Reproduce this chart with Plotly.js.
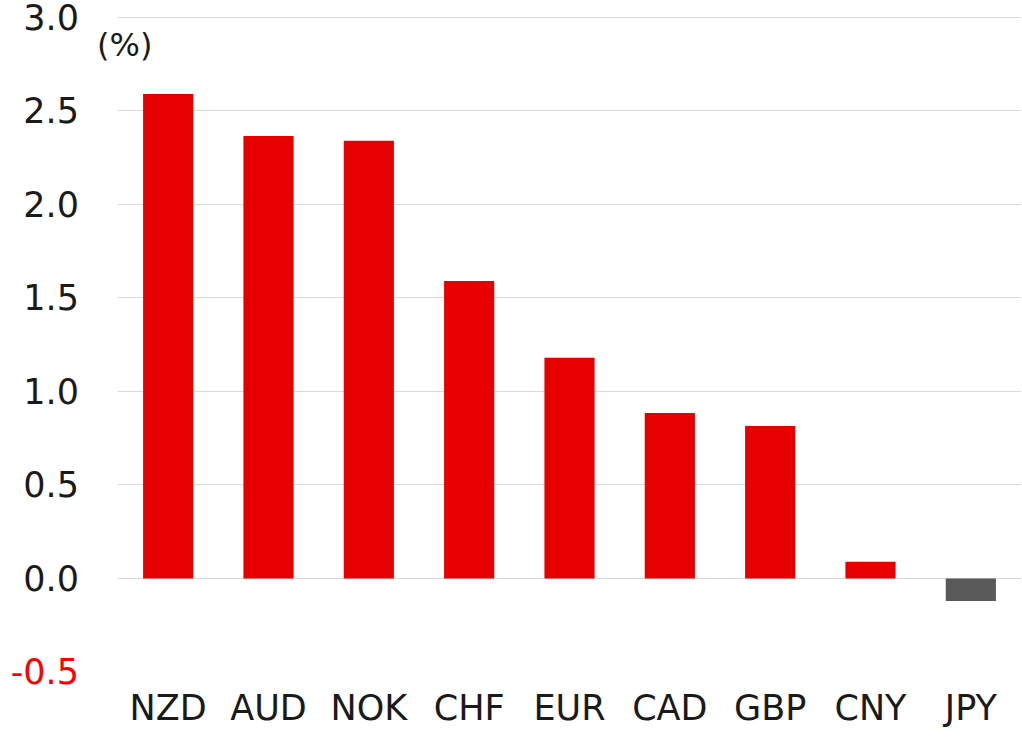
<!DOCTYPE html>
<html>
<head>
<meta charset="utf-8">
<script src="https://cdn.plot.ly/plotly-3.0.1.min.js"></script>
<style>html,body{margin:0;padding:0;background:#fff;}#chart{width:1022px;height:750px;}</style>
</head>
<body>
<div id="chart"></div>
<script>
const categories = ["NZD", "AUD", "NOK", "CHF", "EUR", "CAD", "GBP", "CNY", "JPY"];
const values = [2.59, 2.365, 2.34, 1.59, 1.18, 0.885, 0.815, 0.09, -0.12];
const barColors = ["#e60000", "#e60000", "#e60000", "#e60000", "#e60000", "#e60000", "#e60000", "#e60000", "#595959"];
const yTickVals = [-0.5, 0, 0.5, 1.0, 1.5, 2.0, 2.5, 3.0];
const yTickText = ['<span style="color:#ff0000">-0.5</span>', "0.0", "0.5", "1.0", "1.5", "2.0", "2.5", "3.0"];
const unitLabel = "(%)";

const FONT = "'DejaVu Sans', Verdana, sans-serif";

Plotly.newPlot("chart", [{
  type: "bar",
  x: categories,
  y: values,
  width: 0.5,
  marker: {color: barColors, line: {width: 0}},
  hoverinfo: "x+y"
}], {
  width: 1022,
  height: 750,
  margin: {l: 118, r: 1, t: 8, b: 78},
  paper_bgcolor: "#ffffff",
  plot_bgcolor: "#ffffff",
  showlegend: false,
  font: {family: FONT, color: "#1a1a1a", size: 35},
  xaxis: {
    type: "category",
    showgrid: false,
    showline: false,
    zeroline: false,
    ticks: "",
    ticklabelstandoff: 12,
    tickfont: {family: FONT, size: 35, color: "#1a1a1a"}
  },
  yaxis: {
    range: [-0.5, 3.05],
    tickvals: yTickVals,
    ticktext: yTickText,
    ticklabeloverflow: "allow",
    showgrid: true,
    gridcolor: "#d9d9d9",
    gridwidth: 1,
    zeroline: true,
    zerolinecolor: "#d9d9d9",
    zerolinewidth: 1,
    showline: false,
    ticks: "",
    ticklabelstandoff: 38,
    tickfont: {family: FONT, size: 35, color: "#1a1a1a"}
  },
  annotations: [{
    text: unitLabel,
    xref: "paper", yref: "paper",
    x: -0.025, y: 0.944,
    xanchor: "left", yanchor: "middle",
    showarrow: false,
    font: {family: FONT, size: 32, color: "#1a1a1a"}
  }]
}, {displayModeBar: false, staticPlot: true});
</script>
</body>
</html>
